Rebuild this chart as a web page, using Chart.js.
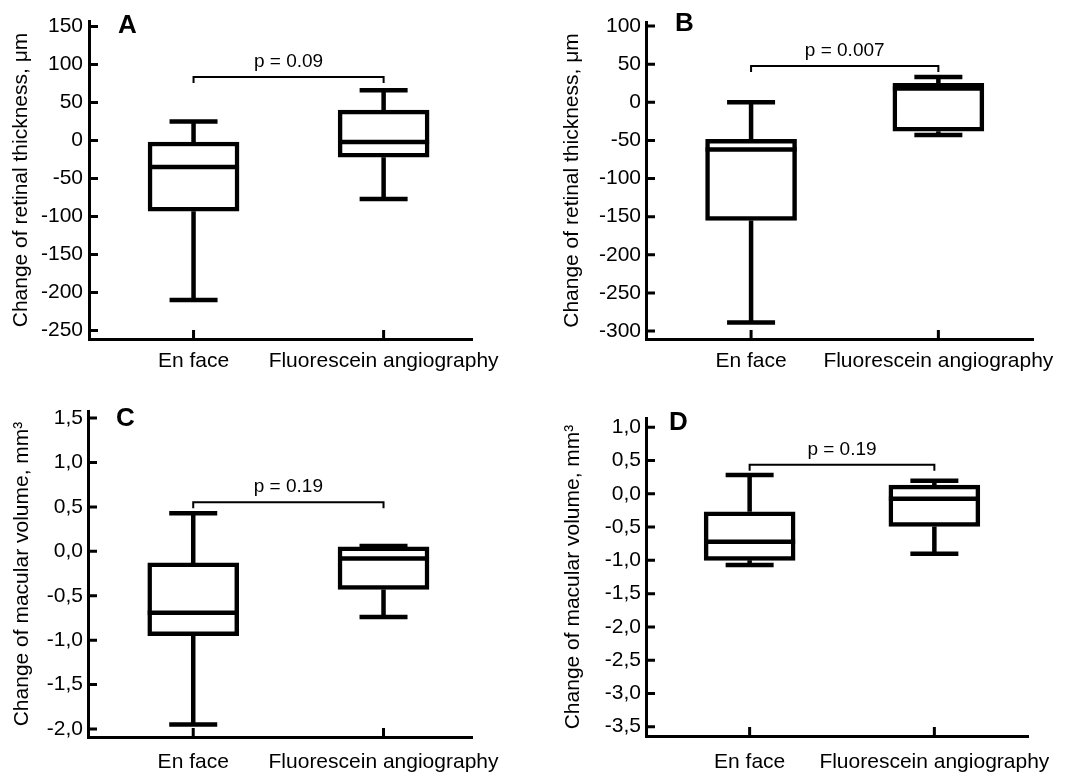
<!DOCTYPE html>
<html>
<head>
<meta charset="utf-8">
<script src="https://cdn.jsdelivr.net/npm/chart.js@4.4.0/dist/chart.umd.min.js"></script>
<style>
  body { margin: 0; background: #fff; }
  .panel { position: absolute; }
</style>
</head>
<body>
<div class="panel" style="left:0;top:0"><canvas id="chartA" width="535" height="386"></canvas></div>
<div class="panel" style="left:535px;top:0"><canvas id="chartB" width="535" height="386"></canvas></div>
<div class="panel" style="left:0;top:386px"><canvas id="chartC" width="535" height="387"></canvas></div>
<div class="panel" style="left:535px;top:386px"><canvas id="chartD" width="535" height="387"></canvas></div>
<script>
const categories = ["En face", "Fluorescein angiography"];

// box statistics: [minimum, lower quartile, median, upper quartile, maximum]
const thicknessEnFaceA = [-210, -93, -35, -2, 25];
const thicknessAngioA = [-77, -22, -2, 40, 66];
const thicknessEnFaceB = [-289, -155, -62, -48.5, 0];
const thicknessAngioB = [-43, -38, 18, 25, 33];
const volumeEnFaceC = [-1.95, -0.95, -0.69, -0.13, 0.43];
const volumeAngioC = [-0.74, -0.43, -0.08, 0.05, 0.06];
const volumeEnFaceD = [-1.07, -1.0, -0.72, -0.27, 0.285];
const volumeAngioD = [-0.9, -0.49, -0.075, 0.13, 0.195];

const ticksA = [-250, -200, -150, -100, -50, 0, 50, 100, 150];
const ticksB = [-300, -250, -200, -150, -100, -50, 0, 50, 100];
const ticksC = [-2.0, -1.5, -1.0, -0.5, 0.0, 0.5, 1.0, 1.5];
const ticksD = [-3.5, -3.0, -2.5, -2.0, -1.5, -1.0, -0.5, 0.0, 0.5, 1.0];

const pLabels = ["p = 0.09", "p = 0.007", "p = 0.19", "p = 0.19"];
const bracketLevels = [83.5, 47.6, 0.553, 0.436];

const FONT = "'Liberation Sans', Arial, sans-serif";
Chart.defaults.font.family = FONT;
Chart.defaults.color = "#000";

const intLabel = v => String(v);
const commaLabel = v => v.toFixed(1).replace(".", ",");

const panels = [
  { id: "chartA", letter: "A", enFace: thicknessEnFaceA, angio: thicknessAngioA, ticks: ticksA,
    fmt: intLabel, title: "Change of retinal thickness, μm", p: pLabels[0], bracket: bracketLevels[0],
    yMin: -261.2, yMax: 157.2, xMin: 0.45, xMax: 2.465,
    yWidth: 89, padRight: 63, padTop: 21, xHeight: 47, titlePad: 9, yPad: 6, xPad: 10,
    letterDx: 29, letterDy: 5 },
  { id: "chartB", letter: "B", enFace: thicknessEnFaceB, angio: thicknessAngioB, ticks: ticksB,
    fmt: intLabel, title: "Change of retinal thickness, μm", p: pLabels[1], bracket: bracketLevels[1],
    yMin: -310.5, yMax: 105.3, xMin: 0.439, xMax: 2.51,
    yWidth: 111, padRight: 27, padTop: 22, xHeight: 47, titlePad: 25, yPad: 5, xPad: 10,
    letterDx: 29, letterDy: 2 },
  { id: "chartC", letter: "C", enFace: volumeEnFaceC, angio: volumeAngioC, ticks: ticksC,
    fmt: commaLabel, title: "Change of macular volume, mm³", p: pLabels[2], bracket: bracketLevels[2],
    yMin: -2.09, yMax: 1.58, xMin: 0.447, xMax: 2.465,
    yWidth: 88, padRight: 63, padTop: 25, xHeight: 36, titlePad: 10, yPad: 5, xPad: 13,
    letterDx: 28, letterDy: 8 },
  { id: "chartD", letter: "D", enFace: volumeEnFaceD, angio: volumeAngioD, ticks: ticksD,
    fmt: commaLabel, title: "Change of macular volume, mm³", p: pLabels[3], bracket: bracketLevels[3],
    yMin: -3.64, yMax: 1.14, xMin: 0.439, xMax: 2.51,
    yWidth: 111, padRight: 27, padTop: 32, xHeight: 37, titlePad: 26, yPad: 5, xPad: 14,
    letterDx: 23, letterDy: 5 }
];

const BOX_W = 91;
const CAP_W = 48;

// whiskers, caps and medians on top of the floating bars
const boxPlugin = {
  id: "boxParts",
  afterDatasetsDraw(chart) {
    const { ctx, scales: { x, y } } = chart;
    const p = chart.config.options.plugins.boxParts;
    const groups = [p.enFace, p.angio];
    ctx.save();
    ctx.strokeStyle = "#000";
    ctx.lineWidth = 4.5;
    ctx.lineCap = "butt";
    groups.forEach((s, i) => {
      const cx = x.getPixelForValue(i + 1);
      const [mn, q1, med, q3, mx] = s.map(v => y.getPixelForValue(v));
      ctx.beginPath();
      ctx.moveTo(cx, q3); ctx.lineTo(cx, mx);
      ctx.moveTo(cx, q1); ctx.lineTo(cx, mn);
      ctx.moveTo(cx - CAP_W / 2, mx); ctx.lineTo(cx + CAP_W / 2, mx);
      ctx.moveTo(cx - CAP_W / 2, mn); ctx.lineTo(cx + CAP_W / 2, mn);
      ctx.moveTo(cx - BOX_W / 2, med); ctx.lineTo(cx + BOX_W / 2, med);
      ctx.stroke();
    });
    ctx.restore();
  },
  afterDraw(chart) {
    const { ctx, chartArea: a, scales: { x, y } } = chart;
    const p = chart.config.options.plugins.boxParts;
    ctx.save();
    ctx.strokeStyle = "#000";
    ctx.fillStyle = "#000";
    // inward tick marks
    ctx.lineWidth = 3;
    ctx.beginPath();
    y.ticks.forEach(t => {
      const py = y.getPixelForValue(t.value);
      ctx.moveTo(a.left, py); ctx.lineTo(a.left + 9, py);
    });
    x.ticks.forEach(t => {
      const px = x.getPixelForValue(t.value);
      ctx.moveTo(px, a.bottom); ctx.lineTo(px, a.bottom - 9);
    });
    ctx.stroke();
    // significance bracket
    const x1 = x.getPixelForValue(1), x2 = x.getPixelForValue(2);
    const by = y.getPixelForValue(p.bracket);
    ctx.lineWidth = 2;
    ctx.beginPath();
    ctx.moveTo(x1, by + 6); ctx.lineTo(x1, by); ctx.lineTo(x2, by); ctx.lineTo(x2, by + 6);
    ctx.stroke();
    ctx.font = "19px " + FONT;
    ctx.textAlign = "center";
    ctx.textBaseline = "alphabetic";
    ctx.fillText(p.p, (x1 + x2) / 2, by - 10);
    // panel letter
    ctx.font = "bold 26px " + FONT;
    ctx.textAlign = "left";
    ctx.textBaseline = "middle";
    ctx.fillText(p.letter, a.left + p.letterDx, a.top + p.letterDy);
    ctx.restore();
  }
};

panels.forEach(panel => {
  const font = { family: FONT, size: 21 };
  new Chart(document.getElementById(panel.id), {
    type: "bar",
    data: {
      datasets: [{
        data: [
          { x: 1, y: [panel.enFace[1], panel.enFace[3]] },
          { x: 2, y: [panel.angio[1], panel.angio[3]] }
        ],
        backgroundColor: "#fff",
        borderColor: "#000",
        borderWidth: 4.5,
        borderSkipped: false,
        barThickness: BOX_W
      }]
    },
    options: {
      responsive: false,
      animation: false,
      layout: { padding: { top: panel.padTop, right: panel.padRight, left: 0, bottom: 0 } },
      plugins: {
        legend: { display: false },
        tooltip: { enabled: false },
        boxParts: panel
      },
      scales: {
        x: {
          type: "linear",
          offset: false,
          min: panel.xMin,
          max: panel.xMax,
          afterBuildTicks: s => { s.ticks = categories.map((c, i) => ({ value: i + 1 })); },
          afterFit: s => { s.height = panel.xHeight; },
          ticks: {
            callback: (v, i) => categories[i],
            font: font, color: "#000", padding: panel.xPad,
            maxRotation: 0, autoSkip: false
          },
          grid: { display: false, drawTicks: false },
          border: { display: true, color: "#000", width: 3 }
        },
        y: {
          min: panel.yMin,
          max: panel.yMax,
          beginAtZero: false,
          afterBuildTicks: s => { s.ticks = panel.ticks.map(v => ({ value: v })); },
          afterFit: s => { s.width = panel.yWidth; },
          ticks: { callback: v => panel.fmt(v), font: font, color: "#000", padding: panel.yPad },
          grid: { display: false, drawTicks: false },
          border: { display: true, color: "#000", width: 3 },
          title: {
            display: true, text: panel.title, font: font, color: "#000",
            padding: { top: panel.titlePad, bottom: 0 }
          }
        }
      }
    },
    plugins: [boxPlugin]
  });
});
</script>
</body>
</html>
